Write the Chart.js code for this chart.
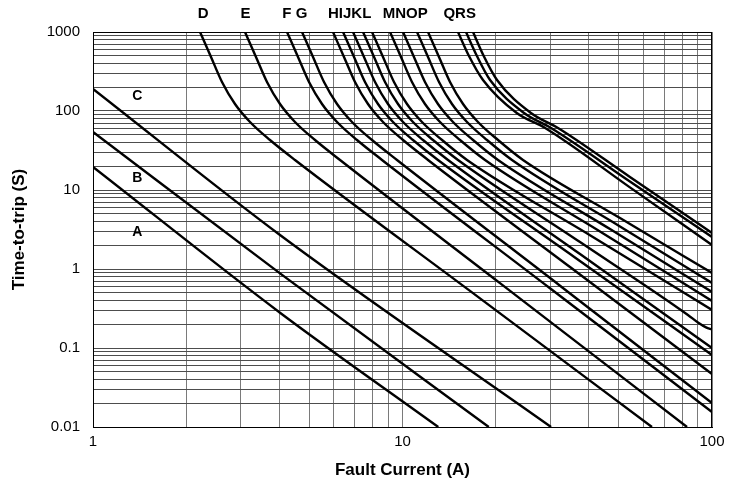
<!DOCTYPE html>
<html>
<head>
<meta charset="utf-8">
<title>Time-to-trip curves</title>
<script src="https://cdn.jsdelivr.net/npm/chart.js@4.4.1/dist/chart.umd.min.js"></script>
<style>
  html, body { margin: 0; padding: 0; background: #fff; }
  #wrap { width: 736px; height: 486px; }
</style>
</head>
<body>
<div id="wrap"><canvas id="trip-chart" width="736" height="486"></canvas></div>
<script>
// Curve points: [fault current (A), time-to-trip (s)]
const curveA = [[1, 19.6], [4.02, 0.28], [13.05, 0.01]];
const curveB = [[1, 54.2], [4.02, 0.88], [19.0, 0.01]];
const curveC = [[1, 190], [4.02, 2.69], [30.2, 0.01]];
const curveD = [[2.217, 1000], [2.406, 483], [2.611, 233], [2.876, 122.6], [3.216, 72.6], [3.731, 42.9], [4.494, 24.0], [16.52, 0.528], [63.98, 0.01]];
const curveE = [[3.098, 1000], [3.362, 483], [3.649, 233], [4.02, 122.6], [4.494, 72.6], [5.216, 42.9], [6.283, 24.0], [20.65, 0.663], [83.04, 0.01]];
const curveF = [[4.235, 1000], [4.596, 483], [4.988, 233], [5.495, 122.6], [6.144, 72.6], [7.128, 42.9], [8.586, 24.0], [29.96, 0.57], [100, 0.0155]];
const curveG = [[4.735, 1000], [5.139, 483], [5.577, 233], [6.144, 122.6], [6.867, 72.6], [7.97, 42.9], [9.599, 24.0], [32.28, 0.615], [100, 0.0201]];
const curveH = [[5.963, 1000], [6.471, 483], [7.023, 233], [7.736, 122.6], [8.65, 72.6], [10.04, 42.9], [12.09, 24.0], [34.77, 1.06], [100, 0.0469]];
const curveI = [[6.425, 1000], [6.973, 483], [7.565, 233], [8.333, 122.6], [9.318, 72.6], [10.81, 42.9], [13.02, 24.0], [36.08, 1.398], [100, 0.0815]];
const curveJ = [[6.92, 1000], [7.509, 483], [8.152, 233], [8.977, 122.6], [10.04, 72.6], [11.65, 42.9], [14.03, 24.0], [37.46, 1.548], [100, 0.1]];
const curveK = [[7.455, 1000], [8.092, 483], [8.78, 233], [9.671, 122.6], [10.81, 72.6], [12.55, 42.9], [15.11, 24.0], [37.46, 2.197], [83.6, 0.262], [90.1, 0.21], [95.63, 0.182], [100, 0.171]];
const curveL = [[7.97, 1000], [8.65, 483], [9.387, 233], [10.34, 122.6], [11.56, 72.6], [13.42, 42.9], [16.16, 24.0], [40.35, 2.671], [100, 0.303]];
const curveM = [[9.113, 1000], [9.889, 483], [10.73, 233], [11.82, 122.6], [13.22, 72.6], [15.34, 42.9], [18.48, 24.0], [43.46, 2.991], [100, 0.394]];
const curveN = [[10.04, 1000], [10.89, 483], [11.82, 233], [13.02, 122.6], [14.56, 72.6], [16.9, 42.9], [20.35, 24.0], [46.82, 3.2], [100, 0.512]];
const curveO = [[11.14, 1000], [12.09, 483], [13.12, 233], [14.45, 122.6], [16.16, 72.6], [18.75, 42.9], [22.58, 24.0], [50.44, 3.461], [100, 0.665]];
const curveP = [[12.09, 1000], [13.12, 483], [14.24, 233], [15.69, 122.6], [17.53, 72.6], [20.35, 42.9], [24.51, 24.0], [50.44, 4.42], [100, 0.89]];
const curveQ = [[15.11, 1000], [16.4, 497], [18.2, 247], [23.4, 94.3], [28.9, 60.9], [54.3, 10.8], [100, 2.01]];
const curveR = [[16.04, 1000], [17.4, 497], [19.18, 247], [24.7, 94.3], [30.2, 60.9], [54.3, 12.8], [100, 2.54]];
const curveS = [[16.9, 1000], [18.3, 497], [20.2, 247], [26.0, 94.3], [31.8, 60.9], [54.3, 14.6], [100, 2.86]];

// Axis tick labels (decades)
const xTicks = [1, 10, 100];
const yTicks = [0.01, 0.1, 1, 10, 100, 1000];

// Curve names written on the chart
const sideNames = ['A', 'B', 'C'];
const sideNameX = [1.39, 1.39, 1.39];
const sideNameY = [2.97, 14.1, 152];
const topNames = ['D', 'E', 'F G', 'HIJKL', 'MNOP', 'QRS'];
const topNameX = [2.27, 3.11, 4.49, 6.75, 10.2, 15.3];

const curves = [curveA, curveB, curveC, curveD, curveE, curveF, curveG, curveH, curveI,
    curveJ, curveK, curveL, curveM, curveN, curveO, curveP, curveQ, curveR, curveS];

const FONT = '"Liberation Sans", Arial, sans-serif';

// every 1..9 step inside each decade, for the log grid
function gridValues(decades) {
    const vals = [];
    for (let i = 0; i < decades.length - 1; i++) {
        for (let m = 1; m <= 9; m++) vals.push(m * decades[i]);
    }
    vals.push(decades[decades.length - 1]);
    return vals;
}

function labelFor(value, decades) {
    const hit = decades.find(d => Math.abs(value / d - 1) < 1e-9);
    return hit === undefined ? '' : String(hit);
}

// plot frame + curve letters
const overlay = {
    id: 'overlay',
    afterDatasetsDraw(chart) {
        const { ctx, chartArea: a, scales: { x, y } } = chart;
        ctx.save();
        ctx.strokeStyle = '#000';
        ctx.lineWidth = 1;
        ctx.strokeRect(a.left + 0.5, a.top + 0.5, a.right - a.left - 1, a.bottom - a.top);
        ctx.fillStyle = '#000';
        ctx.font = 'bold 15px ' + FONT;
        ctx.textAlign = 'center';
        ctx.textBaseline = 'middle';
        topNames.forEach((t, i) => ctx.fillText(t, x.getPixelForValue(topNameX[i]), a.top - 18));
        ctx.font = 'bold 14px ' + FONT;
        sideNames.forEach((t, i) => ctx.fillText(t, x.getPixelForValue(sideNameX[i]), y.getPixelForValue(sideNameY[i])));
        ctx.restore();
    }
};

const ctx = document.getElementById('trip-chart').getContext('2d');
new Chart(ctx, {
    type: 'scatter',
    data: {
        datasets: curves.map(c => ({
            data: c.map(([x, y]) => ({ x, y })),
            showLine: true,
            borderColor: '#000',
            borderWidth: 2.4,
            pointRadius: 0,
            fill: false,
            cubicInterpolationMode: 'monotone'
        }))
    },
    options: {
        responsive: false,
        animation: false,
        events: [],
        layout: { padding: { top: 32, right: 24, bottom: 0, left: 0 } },
        plugins: { legend: { display: false }, tooltip: { enabled: false } },
        scales: {
            x: {
                type: 'logarithmic',
                min: 1,
                max: 100,
                afterBuildTicks: s => { s.ticks = gridValues(xTicks).map(v => ({ value: v })); },
                afterFit: s => { s.height = 59; },
                grid: { color: '#7a7a7a', lineWidth: 1, drawTicks: false },
                border: { color: '#000', width: 1 },
                ticks: {
                    autoSkip: false, maxRotation: 0, padding: 6, color: '#000',
                    font: { family: FONT, size: 15 },
                    callback: v => labelFor(v, xTicks)
                },
                title: {
                    display: true, text: 'Fault Current (A)', color: '#000',
                    font: { family: FONT, size: 17, weight: 'bold' },
                    padding: { top: 0, bottom: 5 }
                }
            },
            y: {
                type: 'logarithmic',
                min: 0.01,
                max: 1000,
                afterBuildTicks: s => { s.ticks = gridValues(yTicks).map(v => ({ value: v })); },
                afterFit: s => { s.width = 93; },
                grid: { color: '#4d4d4d', lineWidth: 1, drawTicks: false },
                border: { color: '#000', width: 1 },
                ticks: {
                    autoSkip: false, padding: 13, color: '#000',
                    font: { family: FONT, size: 15 },
                    callback: v => labelFor(v, yTicks)
                },
                title: {
                    display: true, text: 'Time-to-trip (S)', color: '#000',
                    font: { family: FONT, size: 17, weight: 'bold' },
                    padding: { top: 9, bottom: 0 }
                }
            }
        }
    },
    plugins: [overlay]
});
</script>
</body>
</html>
